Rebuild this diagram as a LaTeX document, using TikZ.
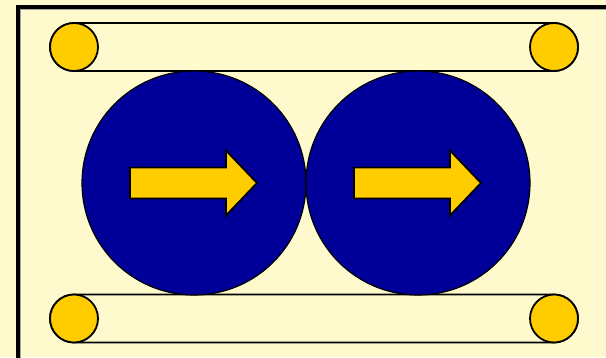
\documentclass[tikz,border=0pt]{standalone}
\usepackage{tikz}
\usetikzlibrary{calc}
\definecolor{paper}{HTML}{FFFACD}
\definecolor{rollblue}{HTML}{000099}
\definecolor{pulleygold}{HTML}{FFCC00}

\begin{document}
\begin{tikzpicture}[
  x=0.5mm, y=-0.5mm,
  pulley/.style={circle, draw, line width=0.9mm, fill=pulleygold, minimum size=24mm, inner sep=0pt},
  roller/.style={circle, draw, line width=0.6mm, fill=rollblue, minimum size=112mm, inner sep=0pt},
  belt/.style={draw, line width=0.9mm, rounded corners=12mm},
  flow/.style={draw, line width=0.9mm, fill=pulleygold, line join=miter}
]
  % Page and frame
  \fill[paper] (0,0) rectangle (606,357);
  \useasboundingbox (0,0) rectangle (606,357);
  \clip (0,0) rectangle (606,357);
  \draw[line width=2mm] (18,6.5) rectangle (700,500);
  \draw[black!35, line width=0.3mm] (20.6,500) |- (700,9.1);

  % Belts
  \draw[belt] (50,23) rectangle (578,71);
  \draw[belt] (50,294.5) rectangle (578,342.5);

  % Pulleys
  \node[pulley] (tl) at (74,47) {};
  \node[pulley] (tr) at (554,47) {};
  \node[pulley] (bl) at (74,318.5) {};
  \node[pulley] (br) at (554,318.5) {};

  % Rollers
  \node[roller] (r1) at (194,183) {};
  \node[roller] (r2) at (418,183) {};

  % Flow direction
  \foreach \r in {r1, r2}
    \draw[flow] ($(\r)+(-64,-15.5)$) -- ++(96,0) -- ++(0,-17) -- ++(31,32.5)
      -- ++(-31,32.5) -- ++(0,-17) -- ++(-96,0) -- cycle;
\end{tikzpicture}
\end{document}
